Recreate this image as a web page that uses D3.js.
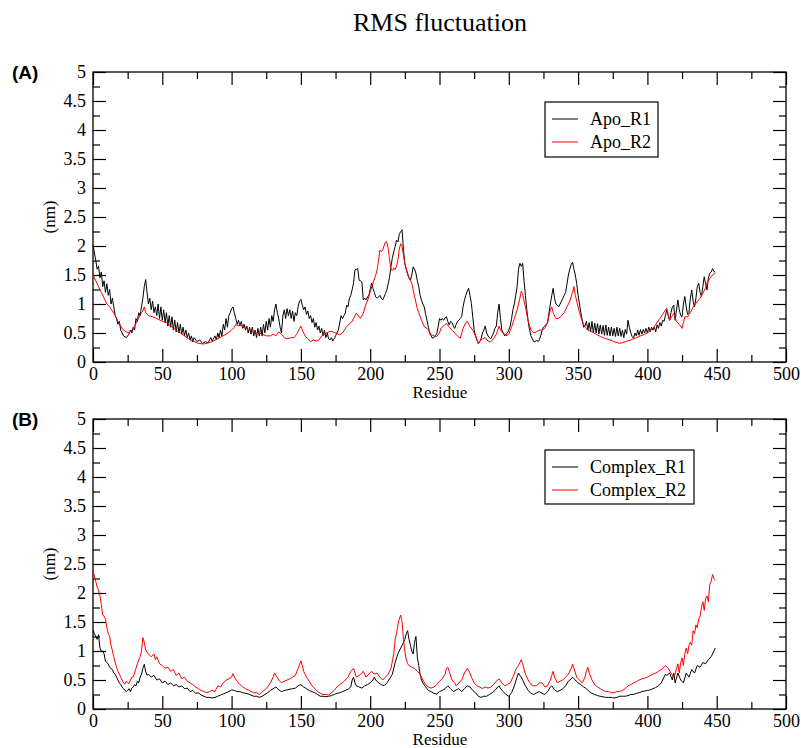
<!DOCTYPE html>
<html>
<head>
<meta charset="utf-8">
<script src="https://cdn.jsdelivr.net/npm/d3@7"></script>
<style>
body { margin: 0; background: #fff; }
svg text { font-family: "Liberation Serif", serif; }
</style>
</head>
<body>
<svg width="801" height="748"></svg>
<script>
// residue, rmsf (nm)
var apoR1 = [[0,2.02],[2,1.75],[3,1.6],[4,1.65],[5,1.45],[6,1.55],[7,1.3],[8,1.4],[9,1.2],[10,1.35],[11,1.15],[12,1.25],[13,1.0],[14,1.1],[15,0.95],[16,0.8],[17,0.75],[18,0.65],[19,0.7],[20,0.55],[21,0.5],[22,0.45],[24,0.42],[26,0.48],[27,0.55],[28,0.5],[29,0.6],[30,0.55],[31,0.75],[32,0.7],[33,0.85],[34,0.8],[35,0.95],[36,1.1],[37,1.3],[38,1.42],[39,1.2],[40,1.0],[41,1.1],[42,0.9],[43,1.05],[44,0.85],[45,0.95],[46,0.8],[47,1.0],[48,0.75],[49,0.95],[50,0.72],[51,0.9],[52,0.68],[53,0.85],[54,0.62],[55,0.8],[56,0.6],[57,0.78],[58,0.55],[59,0.72],[60,0.52],[61,0.68],[62,0.5],[63,0.65],[64,0.48],[65,0.6],[66,0.45],[67,0.55],[68,0.42],[69,0.5],[70,0.38],[71,0.45],[72,0.35],[73,0.42],[75,0.35],[77,0.38],[79,0.32],[81,0.35],[83,0.33],[85,0.42],[86,0.36],[88,0.45],[89,0.38],[90,0.5],[91,0.42],[92,0.55],[93,0.45],[94,0.65],[95,0.55],[96,0.75],[97,0.6],[98,0.8],[99,0.85],[100,0.92],[101,0.95],[102,0.85],[103,0.75],[104,0.65],[105,0.72],[106,0.62],[107,0.7],[108,0.58],[109,0.65],[110,0.55],[111,0.62],[112,0.5],[113,0.6],[114,0.48],[115,0.6],[116,0.45],[117,0.55],[118,0.42],[119,0.58],[120,0.45],[121,0.6],[122,0.45],[123,0.65],[124,0.5],[125,0.7],[126,0.55],[127,0.75],[128,0.6],[129,0.8],[130,0.7],[131,0.9],[132,1.0],[133,0.85],[134,0.75],[135,0.6],[136,0.5],[137,0.8],[138,0.9],[139,0.75],[140,0.92],[141,0.8],[142,0.9],[143,0.75],[144,0.88],[145,0.7],[146,0.85],[147,0.8],[148,0.95],[149,1.05],[150,1.08],[151,0.98],[152,0.9],[153,0.95],[154,0.82],[155,0.88],[156,0.75],[157,0.8],[158,0.68],[159,0.75],[160,0.6],[161,0.68],[162,0.55],[163,0.62],[164,0.5],[165,0.58],[166,0.45],[167,0.55],[168,0.42],[169,0.5],[170,0.4],[171,0.38],[172,0.42],[173,0.36],[174,0.4],[175,0.45],[176,0.5],[177,0.55],[178,0.67],[179,0.8],[180,0.75],[181,0.8],[182,0.84],[183,0.98],[184,0.95],[185,1.1],[186,1.15],[187,1.25],[188,1.36],[189,1.59],[190,1.6],[191,1.61],[192,1.41],[193,1.4],[194,1.38],[195,1.07],[196,1.1],[197,1.07],[198,1.12],[199,1.15],[200,1.25],[201,1.36],[202,1.27],[203,1.2],[204,1.12],[205,1.1],[206,1.12],[207,1.15],[208,1.1],[209,1.07],[210,1.12],[211,1.18],[212,1.24],[213,1.35],[214,1.47],[215,1.65],[216,1.8],[217,1.9],[218,1.99],[219,2.1],[220,2.07],[221,2.2],[222,2.25],[223,2.28],[224,1.93],[225,1.7],[226,1.6],[227,1.53],[228,1.45],[229,1.41],[230,1.5],[231,1.64],[232,1.6],[233,1.53],[234,1.4],[235,1.3],[236,1.15],[237,1.07],[238,1.0],[239,0.95],[240,0.82],[241,0.72],[242,0.6],[243,0.49],[244,0.45],[245,0.41],[246,0.42],[247,0.45],[248,0.49],[249,0.6],[250,0.75],[251,0.72],[252,0.75],[253,0.72],[254,0.76],[255,0.78],[256,0.7],[257,0.64],[258,0.7],[259,0.68],[260,0.62],[261,0.58],[262,0.65],[263,0.7],[264,0.72],[265,0.75],[266,0.78],[267,0.95],[268,1.07],[269,1.15],[270,1.22],[271,1.27],[272,1.15],[273,1.01],[274,0.78],[275,0.55],[276,0.45],[277,0.38],[278,0.32],[279,0.35],[280,0.4],[281,0.5],[282,0.55],[283,0.62],[284,0.5],[285,0.45],[286,0.42],[287,0.4],[288,0.45],[289,0.5],[290,0.58],[291,0.62],[292,0.85],[293,1.0],[294,0.75],[295,0.55],[296,0.5],[297,0.45],[298,0.48],[299,0.5],[300,0.55],[301,0.62],[302,0.75],[303,0.9],[304,1.0],[305,1.15],[306,1.3],[307,1.6],[308,1.7],[309,1.65],[310,1.7],[311,1.4],[312,1.15],[313,0.9],[314,0.7],[315,0.55],[316,0.45],[317,0.4],[318,0.35],[319,0.35],[320,0.38],[321,0.35],[322,0.38],[323,0.45],[324,0.55],[325,0.6],[326,0.62],[327,0.65],[328,0.68],[329,0.85],[330,1.0],[331,1.15],[332,1.27],[333,1.1],[334,1.0],[335,0.98],[336,0.95],[337,1.0],[338,1.05],[339,1.1],[340,1.15],[341,1.2],[342,1.35],[343,1.5],[344,1.6],[345,1.68],[346,1.72],[347,1.6],[348,1.5],[349,1.35],[350,1.15],[351,1.0],[352,0.85],[353,0.72],[354,0.6],[355,0.62],[356,0.7],[357,0.55],[358,0.68],[359,0.52],[360,0.7],[361,0.5],[362,0.67],[363,0.5],[364,0.66],[365,0.48],[366,0.64],[367,0.48],[368,0.63],[369,0.46],[370,0.64],[371,0.46],[372,0.6],[373,0.45],[374,0.6],[375,0.45],[376,0.58],[377,0.44],[378,0.6],[379,0.45],[380,0.58],[381,0.44],[382,0.55],[383,0.42],[384,0.56],[385,0.48],[386,0.72],[387,0.6],[388,0.5],[389,0.44],[390,0.41],[391,0.5],[392,0.45],[393,0.55],[394,0.46],[395,0.56],[396,0.48],[397,0.56],[398,0.5],[399,0.58],[400,0.5],[401,0.6],[402,0.52],[403,0.6],[404,0.55],[405,0.6],[406,0.52],[407,0.64],[408,0.58],[409,0.68],[410,0.62],[411,0.72],[412,0.7],[413,0.8],[414,0.9],[415,0.8],[416,0.72],[417,0.85],[418,0.95],[419,0.98],[420,0.72],[421,0.9],[422,1.07],[423,0.9],[424,0.8],[425,0.78],[426,1.0],[427,1.13],[428,0.95],[429,0.82],[430,0.85],[431,1.1],[432,1.24],[433,1.05],[434,0.95],[435,1.1],[436,1.3],[437,1.36],[438,1.2],[439,1.13],[440,1.3],[441,1.47],[442,1.35],[443,1.24],[444,1.45],[445,1.53],[446,1.55],[447,1.61],[448,1.56],[449,1.55]];

var apoR2 = [[0,1.5],[2,1.4],[4,1.3],[6,1.2],[8,1.1],[10,1.0],[12,0.95],[14,0.88],[16,0.8],[18,0.7],[20,0.62],[22,0.55],[24,0.52],[26,0.5],[28,0.55],[30,0.62],[32,0.72],[34,0.8],[35,0.85],[36,0.88],[37,0.95],[38,0.85],[40,0.8],[43,0.78],[46,0.75],[50,0.7],[53,0.68],[56,0.62],[60,0.55],[63,0.5],[66,0.45],[70,0.38],[73,0.35],[76,0.32],[80,0.31],[83,0.33],[86,0.35],[90,0.4],[93,0.44],[96,0.48],[100,0.55],[102,0.6],[103,0.65],[105,0.62],[106,0.66],[108,0.6],[110,0.6],[112,0.55],[115,0.55],[118,0.5],[120,0.5],[122,0.48],[125,0.45],[128,0.45],[130,0.48],[132,0.45],[134,0.52],[136,0.48],[138,0.42],[140,0.4],[143,0.42],[145,0.42],[147,0.48],[149,0.58],[150,0.62],[151,0.55],[153,0.45],[155,0.4],[157,0.35],[159,0.38],[161,0.36],[163,0.38],[165,0.45],[167,0.48],[170,0.52],[172,0.53],[175,0.5],[178,0.47],[180,0.5],[183,0.61],[185,0.66],[187,0.7],[189,0.8],[190,0.84],[192,0.78],[193,0.75],[195,0.84],[197,1.0],[198,1.05],[200,1.21],[202,1.36],[204,1.5],[205,1.59],[206,1.75],[207,1.93],[208,1.9],[209,1.93],[210,2.0],[211,2.07],[212,2.07],[213,1.95],[214,1.76],[215,1.6],[216,1.58],[217,1.62],[218,1.59],[219,1.65],[220,1.76],[221,1.95],[222,2.04],[223,1.99],[224,1.85],[225,1.7],[226,1.6],[227,1.5],[228,1.45],[230,1.36],[232,1.13],[234,0.92],[235,0.85],[237,0.72],[239,0.61],[241,0.58],[242,0.55],[244,0.47],[246,0.45],[248,0.44],[250,0.5],[251,0.58],[253,0.62],[255,0.67],[257,0.6],[259,0.55],[261,0.5],[263,0.45],[265,0.41],[267,0.58],[269,0.68],[270,0.7],[272,0.61],[274,0.55],[276,0.45],[278,0.32],[279,0.36],[281,0.4],[283,0.42],[285,0.36],[287,0.35],[289,0.4],[291,0.48],[292,0.55],[293,0.62],[294,0.55],[296,0.5],[298,0.45],[300,0.48],[302,0.6],[304,0.75],[306,0.9],[308,1.1],[309,1.22],[310,1.18],[311,1.05],[312,0.95],[314,0.7],[316,0.55],[318,0.5],[320,0.52],[322,0.55],[324,0.55],[326,0.58],[328,0.68],[329,0.8],[330,0.9],[331,0.95],[332,0.85],[334,0.75],[336,0.75],[338,0.8],[340,0.85],[342,0.95],[344,1.05],[346,1.2],[347,1.3],[348,1.15],[349,1.05],[351,0.85],[353,0.7],[355,0.6],[357,0.55],[360,0.52],[363,0.48],[366,0.44],[369,0.41],[373,0.38],[376,0.35],[380,0.32],[384,0.35],[388,0.38],[392,0.42],[397,0.47],[400,0.5],[404,0.58],[407,0.68],[409,0.75],[411,0.82],[413,0.9],[414,0.93],[415,0.82],[416,0.72],[418,0.8],[419,0.84],[421,0.7],[423,0.65],[425,0.58],[426,0.68],[427,0.78],[429,0.78],[431,0.85],[433,0.95],[436,1.04],[438,1.1],[440,1.18],[442,1.28],[443,1.36],[445,1.44],[447,1.5],[449,1.53]];

var complexR1 = [[0,1.36],[1,1.3],[2,1.25],[3,1.2],[4,1.28],[5,1.05],[6,1.0],[7,1.0],[8,0.95],[9,0.82],[10,0.8],[11,0.78],[12,0.72],[13,0.7],[14,0.68],[15,0.62],[16,0.6],[17,0.55],[18,0.5],[19,0.45],[20,0.42],[21,0.38],[22,0.35],[23,0.32],[24,0.3],[25,0.32],[26,0.35],[27,0.3],[28,0.36],[29,0.38],[30,0.42],[31,0.4],[32,0.48],[33,0.45],[34,0.55],[35,0.6],[36,0.7],[37,0.77],[38,0.65],[39,0.58],[40,0.6],[42,0.55],[44,0.58],[46,0.5],[48,0.52],[50,0.45],[52,0.48],[54,0.42],[56,0.45],[58,0.4],[60,0.42],[62,0.38],[64,0.4],[66,0.35],[68,0.36],[70,0.3],[72,0.32],[74,0.27],[76,0.28],[78,0.24],[80,0.22],[82,0.2],[84,0.2],[86,0.19],[88,0.2],[90,0.22],[92,0.24],[94,0.26],[96,0.28],[98,0.3],[100,0.33],[102,0.32],[104,0.3],[106,0.3],[108,0.28],[110,0.27],[112,0.26],[114,0.24],[116,0.22],[118,0.22],[120,0.2],[122,0.22],[124,0.25],[126,0.28],[128,0.32],[130,0.35],[132,0.38],[134,0.33],[136,0.3],[138,0.32],[140,0.33],[142,0.34],[144,0.35],[146,0.36],[148,0.4],[150,0.42],[152,0.38],[154,0.35],[156,0.32],[158,0.3],[160,0.28],[162,0.25],[164,0.22],[166,0.22],[168,0.21],[170,0.22],[172,0.23],[174,0.25],[176,0.27],[178,0.28],[180,0.3],[182,0.32],[184,0.34],[186,0.38],[187,0.5],[188,0.55],[189,0.45],[190,0.4],[192,0.38],[194,0.36],[196,0.4],[198,0.42],[200,0.45],[202,0.5],[203,0.55],[204,0.5],[206,0.45],[208,0.42],[210,0.4],[212,0.45],[214,0.52],[216,0.6],[218,0.8],[220,0.95],[221,1.0],[222,1.05],[223,1.1],[224,1.15],[225,1.2],[226,1.3],[227,1.35],[228,1.2],[229,1.1],[230,1.0],[231,0.95],[232,1.15],[233,1.25],[234,0.9],[235,0.75],[236,0.6],[237,0.5],[238,0.45],[240,0.38],[242,0.32],[244,0.3],[246,0.27],[248,0.26],[250,0.3],[252,0.32],[254,0.35],[256,0.4],[258,0.35],[260,0.3],[262,0.33],[264,0.35],[266,0.3],[268,0.35],[270,0.4],[272,0.38],[274,0.32],[276,0.28],[278,0.22],[280,0.2],[282,0.22],[284,0.22],[286,0.25],[288,0.28],[290,0.32],[292,0.38],[293,0.4],[294,0.35],[296,0.3],[298,0.25],[300,0.22],[302,0.28],[304,0.4],[306,0.55],[307,0.62],[308,0.58],[309,0.55],[310,0.5],[312,0.4],[314,0.32],[316,0.27],[318,0.25],[320,0.28],[322,0.3],[324,0.27],[326,0.25],[328,0.3],[330,0.38],[331,0.4],[333,0.33],[335,0.3],[337,0.32],[339,0.35],[341,0.4],[343,0.48],[345,0.52],[346,0.55],[348,0.5],[350,0.45],[352,0.42],[354,0.38],[356,0.35],[358,0.3],[360,0.27],[362,0.25],[364,0.23],[366,0.22],[368,0.21],[370,0.2],[372,0.2],[374,0.2],[376,0.19],[378,0.2],[380,0.22],[382,0.22],[384,0.22],[386,0.23],[388,0.25],[390,0.25],[392,0.27],[394,0.28],[396,0.3],[398,0.31],[400,0.32],[402,0.33],[404,0.35],[406,0.37],[408,0.4],[410,0.45],[412,0.55],[413,0.6],[414,0.58],[416,0.62],[418,0.5],[419,0.62],[420,0.45],[422,0.62],[424,0.5],[426,0.45],[428,0.62],[430,0.55],[432,0.68],[434,0.62],[436,0.75],[438,0.72],[440,0.8],[442,0.78],[444,0.85],[446,0.9],[448,1.0],[449,1.05]];

var complexR2 = [[0,2.37],[1,2.3],[2,2.2],[3,2.1],[4,2.05],[5,1.95],[6,1.8],[7,1.62],[8,1.6],[9,1.55],[10,1.4],[11,1.3],[12,1.25],[13,1.1],[14,1.0],[15,0.9],[16,0.8],[17,0.72],[18,0.65],[19,0.6],[20,0.55],[21,0.5],[22,0.45],[23,0.43],[24,0.48],[25,0.45],[26,0.44],[27,0.5],[28,0.55],[29,0.55],[30,0.62],[31,0.7],[32,0.78],[33,0.85],[34,0.9],[35,1.0],[36,1.23],[37,1.15],[38,1.02],[39,0.98],[40,0.95],[42,0.9],[44,0.95],[45,0.85],[46,0.9],[48,0.78],[50,0.75],[52,0.7],[54,0.72],[56,0.65],[58,0.68],[60,0.58],[62,0.62],[64,0.52],[66,0.55],[68,0.48],[70,0.45],[72,0.42],[74,0.38],[76,0.35],[78,0.32],[80,0.3],[82,0.28],[84,0.3],[86,0.32],[88,0.3],[90,0.4],[92,0.38],[94,0.45],[96,0.5],[98,0.52],[100,0.55],[101,0.61],[102,0.55],[104,0.48],[106,0.42],[108,0.38],[110,0.35],[112,0.33],[114,0.3],[116,0.28],[118,0.28],[120,0.25],[122,0.3],[124,0.33],[126,0.38],[128,0.45],[130,0.55],[131,0.62],[132,0.58],[134,0.5],[136,0.45],[138,0.48],[140,0.5],[142,0.52],[144,0.55],[146,0.58],[148,0.7],[150,0.83],[151,0.75],[152,0.65],[154,0.55],[156,0.48],[158,0.4],[160,0.35],[162,0.3],[164,0.27],[166,0.25],[168,0.25],[170,0.24],[172,0.28],[174,0.32],[176,0.38],[178,0.42],[180,0.45],[182,0.5],[184,0.55],[186,0.65],[188,0.7],[190,0.55],[192,0.58],[194,0.62],[195,0.65],[197,0.55],[199,0.6],[201,0.65],[203,0.6],[205,0.62],[207,0.55],[209,0.5],[211,0.55],[213,0.6],[215,0.7],[217,0.95],[218,1.2],[219,1.3],[220,1.45],[221,1.55],[222,1.62],[223,1.5],[224,1.2],[225,1.0],[226,0.85],[227,0.78],[228,0.75],[230,0.72],[232,0.7],[234,0.65],[236,0.6],[238,0.5],[240,0.42],[242,0.38],[244,0.36],[246,0.38],[248,0.42],[250,0.48],[252,0.52],[254,0.6],[255,0.7],[256,0.72],[257,0.65],[259,0.5],[261,0.45],[262,0.4],[264,0.45],[266,0.5],[268,0.62],[270,0.7],[272,0.62],[273,0.55],[275,0.45],[277,0.4],[279,0.38],[281,0.35],[283,0.38],[285,0.36],[287,0.38],[289,0.42],[291,0.48],[293,0.52],[295,0.45],[297,0.4],[299,0.42],[301,0.45],[303,0.55],[305,0.68],[307,0.75],[309,0.85],[310,0.78],[312,0.6],[314,0.5],[316,0.42],[318,0.4],[320,0.4],[322,0.45],[324,0.45],[326,0.38],[328,0.4],[330,0.5],[331,0.58],[332,0.65],[333,0.55],[335,0.45],[337,0.48],[339,0.5],[341,0.55],[343,0.6],[345,0.7],[346,0.77],[347,0.7],[349,0.55],[351,0.5],[353,0.45],[355,0.55],[356,0.65],[357,0.72],[358,0.62],[360,0.5],[362,0.42],[364,0.38],[366,0.35],[368,0.32],[370,0.3],[372,0.3],[374,0.28],[376,0.28],[378,0.3],[380,0.3],[382,0.32],[384,0.35],[386,0.4],[388,0.42],[390,0.45],[392,0.47],[394,0.5],[396,0.52],[398,0.53],[400,0.55],[402,0.58],[404,0.6],[406,0.62],[408,0.65],[410,0.68],[412,0.72],[413,0.75],[415,0.7],[417,0.62],[419,0.55],[420,0.6],[421,0.7],[422,0.78],[423,0.62],[424,0.8],[425,0.88],[426,0.75],[427,0.95],[428,1.05],[429,0.95],[430,1.1],[431,1.15],[432,1.1],[433,1.35],[434,1.3],[435,1.45],[436,1.4],[437,1.55],[438,1.6],[439,1.75],[440,1.85],[441,1.7],[442,1.9],[443,1.95],[444,1.85],[445,2.15],[446,2.2],[447,2.32],[448,2.25],[449,2.22]];

var xMajor = [0,50,100,150,200,250,300,350,400,450,500];
var yMajor = [0,0.5,1,1.5,2,2.5,3,3.5,4,4.5,5];
var panelLabels = ["(A)", "(B)"];
var legendA = ["Apo_R1", "Apo_R2"];
var legendB = ["Complex_R1", "Complex_R2"];
var colors = ["#000000", "#ff0000"];

var svg = d3.select("svg");

svg.append("text")
    .attr("x", 440)
    .attr("y", 31)
    .attr("text-anchor", "middle")
    .style("font-size", "26px")
    .text("RMS fluctuation");

var xScale = d3.scaleLinear().domain([0,500]).range([93,786]);
var fmt = d3.format("~g");

var drawPanel = function(top, bottom, label, series, names, legendBox)
{
    var yScale = d3.scaleLinear().domain([0,5]).range([bottom, top]);
    var g = svg.append("g");

    // minor ticks
    var xMinor = d3.range(25, 500, 50);
    var yMinor = d3.range(0.25, 5, 0.5);

    var addAxis = function(axis, transform)
    {
        var a = g.append("g")
            .attr("transform", transform)
            .call(axis);
        a.select(".domain").remove();
        a.selectAll("line").attr("stroke", "#000").attr("stroke-width", 1.2);
        a.selectAll("text")
            .style("font-size", "18px")
            .style("font-family", "Liberation Serif")
            .attr("fill", "#000");
        return a;
    }

    addAxis(d3.axisBottom(xScale).tickValues(xMinor).tickSize(-7).tickFormat(""), "translate(0," + bottom + ")");
    addAxis(d3.axisTop(xScale).tickValues(xMinor).tickSize(-7).tickFormat(""), "translate(0," + top + ")");
    addAxis(d3.axisTop(xScale).tickValues(xMajor).tickSize(-13).tickFormat(""), "translate(0," + top + ")");
    addAxis(d3.axisLeft(yScale).tickValues(yMinor).tickSize(-7).tickFormat(""), "translate(93,0)");
    addAxis(d3.axisRight(yScale).tickValues(yMinor).tickSize(-7).tickFormat(""), "translate(786,0)");
    addAxis(d3.axisRight(yScale).tickValues(yMajor).tickSize(-13).tickFormat(""), "translate(786,0)");
    addAxis(d3.axisBottom(xScale).tickValues(xMajor).tickSize(-13).tickPadding(5).tickFormat(fmt), "translate(0," + bottom + ")");
    addAxis(d3.axisLeft(yScale).tickValues(yMajor).tickSize(-13).tickPadding(7).tickFormat(fmt), "translate(93,0)");

    g.append("rect")
        .attr("x", 93).attr("y", top)
        .attr("width", 693).attr("height", bottom - top)
        .attr("fill", "none").attr("stroke", "#000").attr("stroke-width", 1.3);

    var line = d3.line()
        .x(function(d){return xScale(d[0]);})
        .y(function(d){return yScale(d[1]);});

    series.forEach(function(s, i)
    {
        g.append("path")
            .datum(s)
            .attr("d", line)
            .attr("fill", "none")
            .attr("stroke", colors[i])
            .attr("stroke-width", 1);
    });

    g.append("text")
        .attr("x", 440).attr("y", bottom + 36)
        .attr("text-anchor", "middle")
        .style("font-size", "17px")
        .text("Residue");

    g.append("text")
        .attr("transform", "translate(55," + ((top + bottom) / 2) + ") rotate(-90)")
        .attr("text-anchor", "middle")
        .style("font-size", "17px")
        .text("(nm)");

    g.append("text")
        .attr("x", 12).attr("y", top + 7)
        .style("font-family", "Liberation Sans, Arial, sans-serif")
        .style("font-weight", "bold")
        .style("font-size", "19px")
        .text(label);

    // legend
    var lg = g.append("g");
    lg.append("rect")
        .attr("x", legendBox.x).attr("y", legendBox.y)
        .attr("width", legendBox.w).attr("height", legendBox.h)
        .attr("fill", "#fff").attr("stroke", "#000").attr("stroke-width", 1.2);
    names.forEach(function(n, i)
    {
        var yy = legendBox.y + 17 + i * 23;
        lg.append("line")
            .attr("x1", legendBox.x + 7).attr("x2", legendBox.x + 33)
            .attr("y1", yy).attr("y2", yy)
            .attr("stroke", colors[i]).attr("stroke-width", 1);
        lg.append("text")
            .attr("x", legendBox.x + 45).attr("y", yy + 6)
            .style("font-size", "18px")
            .text(n);
    });
}

drawPanel(72, 362, panelLabels[0], [apoR1, apoR2], legendA, {x:545, y:102, w:113, h:55});
drawPanel(419, 709, panelLabels[1], [complexR1, complexR2], legendB, {x:545, y:450, w:149, h:54});
</script>
</body>
</html>
